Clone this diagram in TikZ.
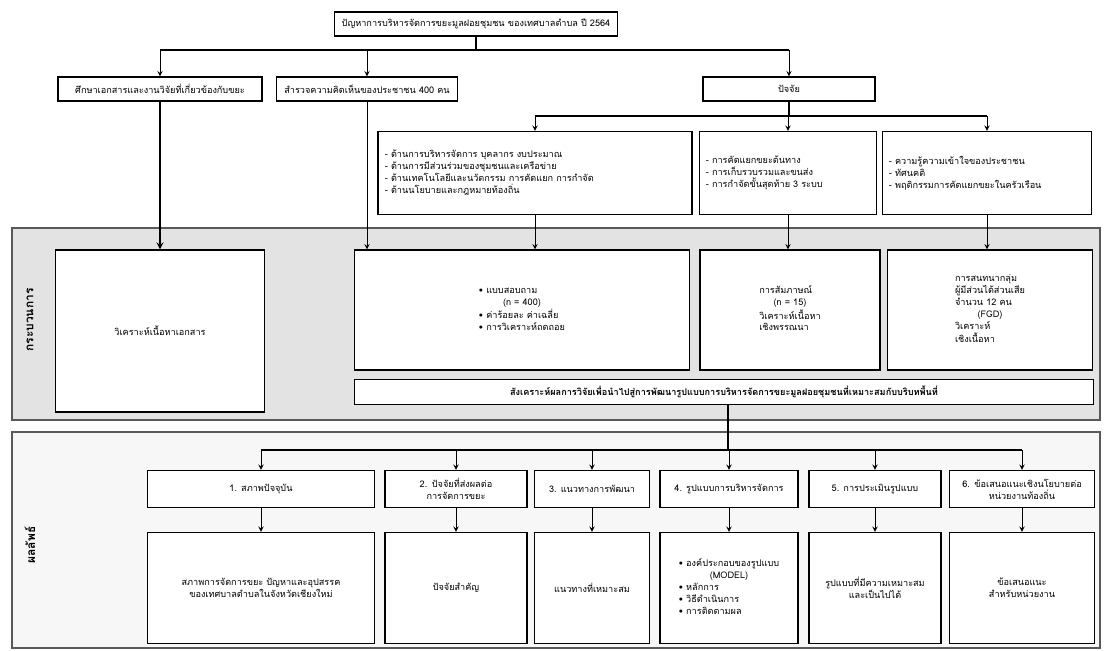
\documentclass[tikz,border=0pt]{standalone}
\usepackage{fontspec}
\usepackage{tikz}
\newfontfamily\thai[Script=Thai]{Loma}
\tikzstyle{kotak} = [draw, fill=white, line width=0.8pt, rectangle, inner sep=3pt, font=\thai\fontsize{6.5}{8.5}\selectfont]
\tikzstyle{pita} = [draw=gray!70!black, line width=0.8pt]
\tikzstyle{garis} = [line width=1.2pt]
\tikzstyle{panah} = [->, >=stealth, line width=0.7pt]
\tikzstyle{judulpita} = [font=\thai\fontsize{8.5}{10}\selectfont\bfseries, rotate=90]

\begin{document}
\begin{tikzpicture}[x=0.025cm, y=-0.025cm]
	\useasboundingbox (0,0) rectangle (1112,651);
	\fill[pita, fill=gray!22] (12,228) rectangle (1100,420);
	\fill[pita, fill=gray!6] (12,432) rectangle (1100,648);
	\draw[pita] (12,228) rectangle (1100,420);
	\draw[pita] (12,432) rectangle (1100,648);
	\node[judulpita] (proses) at (30,320) {กระบวนการ};
	\node[judulpita] (hasil) at (30,545) {ผลลัพธ์};

	\node[kotak, minimum width=7.08cm, minimum height=0.6cm] (judul) at (476,24) {ปัญหาการบริหารจัดการขยะมูลฝอยชุมชน ของเทศบาลตำบล ปี 2564};
	\node[kotak, minimum width=5.1cm, minimum height=0.6cm] (kaji) at (160,89) {ศึกษาเอกสารและงานวิจัยที่เกี่ยวข้องกับขยะ};
	\node[kotak, minimum width=4.53cm, minimum height=0.6cm] (survei) at (367,89) {สำรวจความคิดเห็นของประชาชน 400 คน};
	\node[kotak, minimum width=4.3cm, minimum height=0.6cm] (faktor) at (789,89) {ปัจจัย};

	\node[kotak, minimum width=7.85cm, minimum height=2.08cm, text width=7.5cm, align=left] (fa) at (535,173) {- ด้านการบริหารจัดการ บุคลากร งบประมาณ\\- ด้านการมีส่วนร่วมของชุมชนและเครือข่าย\\- ด้านเทคโนโลยีและนวัตกรรม การคัดแยก การกำจัด\\- ด้านนโยบายและกฎหมายท้องถิ่น};
	\node[kotak, minimum width=4.43cm, minimum height=2.08cm, text width=4.1cm, align=left] (fb) at (788,173) {- การคัดแยกขยะต้นทาง\\- การเก็บรวบรวมและขนส่ง\\- การกำจัดขั้นสุดท้าย 3 ระบบ};
	\node[kotak, minimum width=5.23cm, minimum height=2.08cm, text width=4.9cm, align=left] (fc) at (987,173) {- ความรู้ความเข้าใจของประชาชน\\- ทัศนคติ\\- พฤติกรรมการคัดแยกขยะในครัวเรือน};

	\node[kotak, minimum width=5.23cm, minimum height=4.05cm] (analisis) at (160,331) {วิเคราะห์เนื้อหาเอกสาร};
	\node[kotak, minimum width=8.38cm, minimum height=3cm] (ma) at (522,310) {\begin{tabular}{@{}l@{}}• แบบสอบถาม\\\multicolumn{1}{@{}c@{}}{(n = 400)}\\• ค่าร้อยละ ค่าเฉลี่ย\\• การวิเคราะห์ถดถอย\end{tabular}};
	\node[kotak, minimum width=4.5cm, minimum height=3cm] (mb) at (790,310) {\begin{tabular}{@{}l@{}}การสัมภาษณ์\\\multicolumn{1}{@{}c@{}}{(n = 15)}\\วิเคราะห์เนื้อหา\\เชิงพรรณนา\end{tabular}};
	\node[kotak, minimum width=5.13cm, minimum height=3cm] (mc) at (990,310) {\begin{tabular}{@{}l@{}}การสนทนากลุ่ม\\ผู้มีส่วนได้ส่วนเสีย\\จำนวน 12 คน\\\multicolumn{1}{@{}c@{}}{(FGD)}\\วิเคราะห์\\เชิงเนื้อหา\end{tabular}};
	\node[kotak, minimum width=18.45cm, minimum height=0.63cm, font=\thai\fontsize{6.5}{8.5}\selectfont\bfseries] (sintesis) at (724,392) {สังเคราะห์ผลการวิจัยเพื่อนำไปสู่การพัฒนารูปแบบการบริหารจัดการขยะมูลฝอยชุมชนที่เหมาะสมกับบริบทพื้นที่};

	\node[kotak, minimum width=5.68cm, minimum height=0.93cm] (h1) at (261,489) {1. สภาพปัจจุบัน};
	\node[kotak, minimum width=3.55cm, minimum height=0.93cm, text width=3.3cm, align=center] (h2) at (456,489) {2. ปัจจัยที่ส่งผลต่อ\\การจัดการขยะ};
	\node[kotak, minimum width=2.88cm, minimum height=0.93cm] (h3) at (592,489) {3. แนวทางการพัฒนา};
	\node[kotak, minimum width=3.45cm, minimum height=0.93cm] (h4) at (729,489) {4. รูปแบบการบริหารจัดการ};
	\node[kotak, minimum width=3.3cm, minimum height=0.93cm] (h5) at (875,489) {5. การประเมินรูปแบบ};
	\node[kotak, minimum width=3.63cm, minimum height=0.93cm, text width=3.4cm, align=center] (h6) at (1022,489) {6. ข้อเสนอแนะเชิงนโยบายต่อ\\หน่วยงานท้องถิ่น};

	\node[kotak, minimum width=5.68cm, minimum height=2.78cm, align=center] (r1) at (261,588) {สภาพการจัดการขยะ ปัญหาและอุปสรรค\\ของเทศบาลตำบลในจังหวัดเชียงใหม่};
	\node[kotak, minimum width=3.55cm, minimum height=2.78cm] (r2) at (456,588) {ปัจจัยสำคัญ};
	\node[kotak, minimum width=2.88cm, minimum height=2.78cm] (r3) at (592,588) {แนวทางที่เหมาะสม};
	\node[kotak, minimum width=3.45cm, minimum height=2.78cm] (r4) at (729,588) {\begin{tabular}{@{}l@{}}• องค์ประกอบของรูปแบบ\\\multicolumn{1}{@{}c@{}}{(MODEL)}\\• หลักการ\\• วิธีดำเนินการ\\• การติดตามผล\end{tabular}};
	\node[kotak, minimum width=3.3cm, minimum height=2.78cm, align=center] (r5) at (875,588) {รูปแบบที่มีความเหมาะสม\\และเป็นไปได้};
	\node[kotak, minimum width=3.63cm, minimum height=2.78cm, align=center] (r6) at (1022,588) {ข้อเสนอแนะ\\สำหรับหน่วยงาน};

	\coordinate (c1) at (476,50);
	\coordinate (c2) at (789,116);
	\coordinate (c3) at (728,450);
	\draw[garis] (judul.south) -- (c1);
	\draw[garis] (kaji.north |- c1) -- (faktor.north |- c1);
	\foreach \n in {kaji,survei,faktor}
		\draw[panah] (\n.north |- c1) -- (\n.north);
	\draw[garis] (faktor.south) -- (c2);
	\draw[garis] (fa.north |- c2) -- (fc.north |- c2);
	\foreach \n in {fa,fb,fc}
		\draw[panah] (\n.north |- c2) -- (\n.north);
	\draw[garis, ->, >=stealth] (kaji.south) -- (analisis.north);
	\draw[panah] (survei.south) -- (survei.south |- ma.north);
	\draw[panah] (fa.south) -- (fa.south |- ma.north);
	\draw[panah] (fb.south) -- (fb.south |- mb.north);
	\draw[panah] (fc.south) -- (fc.south |- mc.north);
	\draw[garis] (sintesis.south -| c3) -- (c3);
	\draw[garis] (h1.north |- c3) -- (h6.north |- c3);
	\foreach \n in {1,...,6}{
		\draw[panah] (h\n.north |- c3) -- (h\n.north);
		\draw[panah] (h\n.south) -- (r\n.north);
	}
\end{tikzpicture}
\end{document}
